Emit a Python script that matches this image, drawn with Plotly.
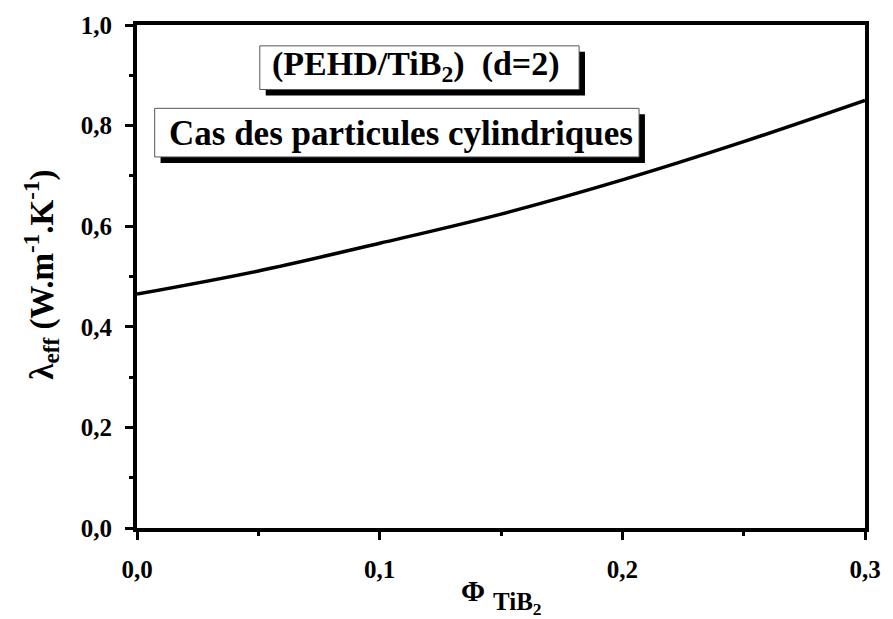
import plotly.graph_objects as go

# Data
phi = [0.0, 0.05, 0.10, 0.15, 0.20, 0.25, 0.30]
lam_eff = [0.465, 0.511, 0.566, 0.624, 0.692, 0.768, 0.850]

x_tickvals = [0.0, 0.1, 0.2, 0.3]
x_ticktext = ["0,0", "0,1", "0,2", "0,3"]
y_tickvals = [0.0, 0.2, 0.4, 0.6, 0.8, 1.0]
y_ticktext = ["0,0", "0,2", "0,4", "0,6", "0,8", "1,0"]

FONT = "Liberation Serif, Times New Roman, serif"

fig = go.Figure()
fig.add_trace(go.Scatter(x=phi, y=lam_eff, mode="lines", line=dict(color="black", width=3.5, shape="spline"),
                         showlegend=False, hoverinfo="skip"))

W, H = 741.0, 507.0  # plot area in pixels
L0, B0 = 137, 528


def px_box(x0, y0, x1, y1):
    return dict(x0=(x0 - L0) / W, x1=(x1 - L0) / W, y0=(B0 - y1) / H, y1=(B0 - y0) / H)


def px_x(x):
    return (x - L0) / W


def px_y(y):
    return (B0 - y) / H


shapes = []
for (bx0, by0, bx1, by1) in [(262, 42, 587, 86), (155, 105, 648, 154)]:
    sh = px_box(bx0 + 6, by0 + 6, bx1 + 6, by1 + 6)
    shapes.append(dict(type="rect", xref="paper", yref="paper", fillcolor="black", line=dict(width=0), **sh))
    bx = px_box(bx0, by0, bx1, by1)
    shapes.append(dict(type="rect", xref="paper", yref="paper", fillcolor="white",
                       line=dict(color="#555555", width=1), **bx))

annotations = [
    dict(text="<b>(PEHD/TiB<sub>2</sub>)  (d=2)</b>", xref="paper", yref="paper",
         x=px_x(421), y=px_y(62), showarrow=False,
         font=dict(family=FONT, size=34, color="black"), xanchor="center", yanchor="middle"),
    dict(text="<b>Cas des particules cylindriques</b>", xref="paper", yref="paper",
         x=px_x(406), y=px_y(130), showarrow=False,
         font=dict(family=FONT, size=35, color="black"), xanchor="center", yanchor="middle"),
    # x-axis title: Φ with TiB2 as a large subscript
    dict(text="<b>Φ</b>", xref="paper", yref="paper", x=px_x(479.5), y=px_y(592), showarrow=False,
         font=dict(family=FONT, size=29, color="black"), xanchor="center", yanchor="middle"),
    dict(text="<b>TiB<sub>2</sub></b>", xref="paper", yref="paper", x=px_x(497), y=px_y(604), showarrow=False,
         font=dict(family=FONT, size=25, color="black"), xanchor="left", yanchor="middle"),
    # y-axis title
    dict(text="<b>λ<sub>eff</sub> (W.m<sup>-1</sup>.K<sup>-1</sup>)</b>", xref="paper", yref="paper",
         x=px_x(39), y=px_y(273), showarrow=False, textangle=-90,
         font=dict(family=FONT, size=33, color="black"), xanchor="center", yanchor="middle"),
]

fig.update_layout(
    width=893, height=619,
    margin=dict(l=L0, r=893 - 878, t=21, b=619 - B0),
    paper_bgcolor="white", plot_bgcolor="white",
    shapes=shapes, annotations=annotations,
    font=dict(family=FONT, color="black"),
    xaxis=dict(
        range=[0, 0.3], tickvals=x_tickvals, ticktext=x_ticktext,
        showgrid=False, zeroline=False, showline=True, linecolor="black", linewidth=4, mirror=True,
        ticks="outside", ticklen=8, tickwidth=3, tickcolor="black", ticklabelstandoff=8,
        minor=dict(dtick=0.05, ticks="outside", ticklen=4, tickwidth=3, tickcolor="black", showgrid=False),
        tickfont=dict(family=FONT, size=25, color="black", weight="bold"),
    ),
    yaxis=dict(
        range=[0, 1.0], tickvals=y_tickvals, ticktext=y_ticktext,
        showgrid=False, zeroline=False, showline=True, linecolor="black", linewidth=4, mirror=True,
        ticks="outside", ticklen=8, tickwidth=3, tickcolor="black", ticklabelstandoff=8,
        minor=dict(dtick=0.1, ticks="outside", ticklen=4, tickwidth=3, tickcolor="black", showgrid=False),
        tickfont=dict(family=FONT, size=25, color="black", weight="bold"),
    ),
)

fig.write_html("out.html")
